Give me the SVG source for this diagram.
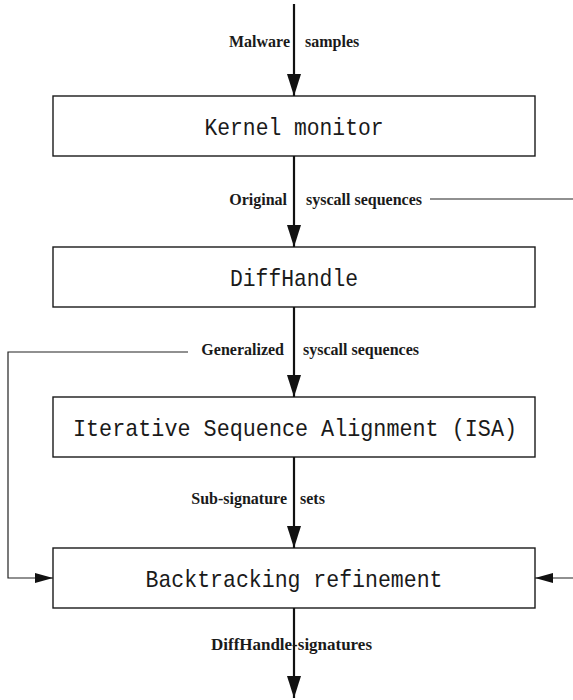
<svg xmlns="http://www.w3.org/2000/svg" width="573" height="700" viewBox="0 0 573 700">
  <defs>
    <marker id="headV" markerUnits="userSpaceOnUse" markerWidth="22" markerHeight="14" refX="22" refY="7" orient="auto" viewBox="0 0 22 14">
      <path d="M0,0 L22,7 L0,14 Z" fill="#111"/>
    </marker>
    <marker id="headH" markerUnits="userSpaceOnUse" markerWidth="18" markerHeight="10" refX="18" refY="5" orient="auto" viewBox="0 0 18 10">
      <path d="M0,0 L18,5 L0,10 Z" fill="#111"/>
    </marker>
    <style>
      .box { fill: #fff; stroke: #1a1a1a; stroke-width: 1.4; }
      .node-text { font-family: "Liberation Mono", "DejaVu Sans Mono", monospace; font-size: 24px; fill: #1a1a1a; text-anchor: middle; }
      .flow { stroke: #111; stroke-width: 2.2; fill: none; }
      .link { stroke: #222; stroke-width: 1.2; fill: none; }
      .lbl { font-family: "Liberation Serif", "Times New Roman", serif; font-weight: bold; font-size: 16px; fill: #1a1a1a; }
      .end { text-anchor: end; }
    </style>
  </defs>

  <!-- processing stages -->
  <g id="kernel-monitor">
    <rect class="box" x="53" y="96" width="482" height="60"/>
    <text class="node-text" x="294" y="135" textLength="179" lengthAdjust="spacingAndGlyphs">Kernel monitor</text>
  </g>
  <g id="diffhandle">
    <rect class="box" x="53" y="247" width="482" height="60"/>
    <text class="node-text" x="294" y="286" textLength="128" lengthAdjust="spacingAndGlyphs">DiffHandle</text>
  </g>
  <g id="isa">
    <rect class="box" x="53" y="397" width="482" height="60"/>
    <text class="node-text" x="295" y="436" textLength="444" lengthAdjust="spacingAndGlyphs">Iterative Sequence Alignment (ISA)</text>
  </g>
  <g id="backtracking">
    <rect class="box" x="53" y="548" width="482" height="60"/>
    <text class="node-text" x="294" y="587" textLength="297" lengthAdjust="spacingAndGlyphs">Backtracking refinement</text>
  </g>

  <!-- data flow between stages -->
  <g id="connectors">
    <line class="flow" x1="294" y1="4" x2="294" y2="96" marker-end="url(#headV)"/>
    <line class="flow" x1="294" y1="156" x2="294" y2="247" marker-end="url(#headV)"/>
    <line class="flow" x1="294" y1="307" x2="294" y2="397" marker-end="url(#headV)"/>
    <line class="flow" x1="294" y1="457" x2="294" y2="548" marker-end="url(#headV)"/>
    <line class="flow" x1="294" y1="608" x2="294" y2="698" marker-end="url(#headV)"/>

    <!-- original sequences branch off to the right -->
    <line class="link" x1="430" y1="199" x2="573" y2="199"/>
    <!-- generalized sequences loop back into refinement -->
    <polyline class="link" points="188,352 8,352 8,578 53,578" marker-end="url(#headH)"/>
    <line class="link" x1="573" y1="578" x2="535" y2="578" marker-end="url(#headH)"/>
  </g>

  <!-- edge labels -->
  <g id="labels">
    <text class="lbl end" x="290" y="47">Malware</text>
    <text class="lbl" x="305" y="47">samples</text>
    <text class="lbl end" x="287" y="205">Original</text>
    <text class="lbl" x="306" y="205">syscall sequences</text>
    <text class="lbl end" x="284" y="355">Generalized</text>
    <text class="lbl" x="303" y="355">syscall sequences</text>
    <text class="lbl end" x="287" y="504">Sub-signature</text>
    <text class="lbl" x="300" y="504">sets</text>
    <text class="lbl" x="211" y="650" textLength="161" lengthAdjust="spacingAndGlyphs">DiffHandle-signatures</text>
  </g>
</svg>
